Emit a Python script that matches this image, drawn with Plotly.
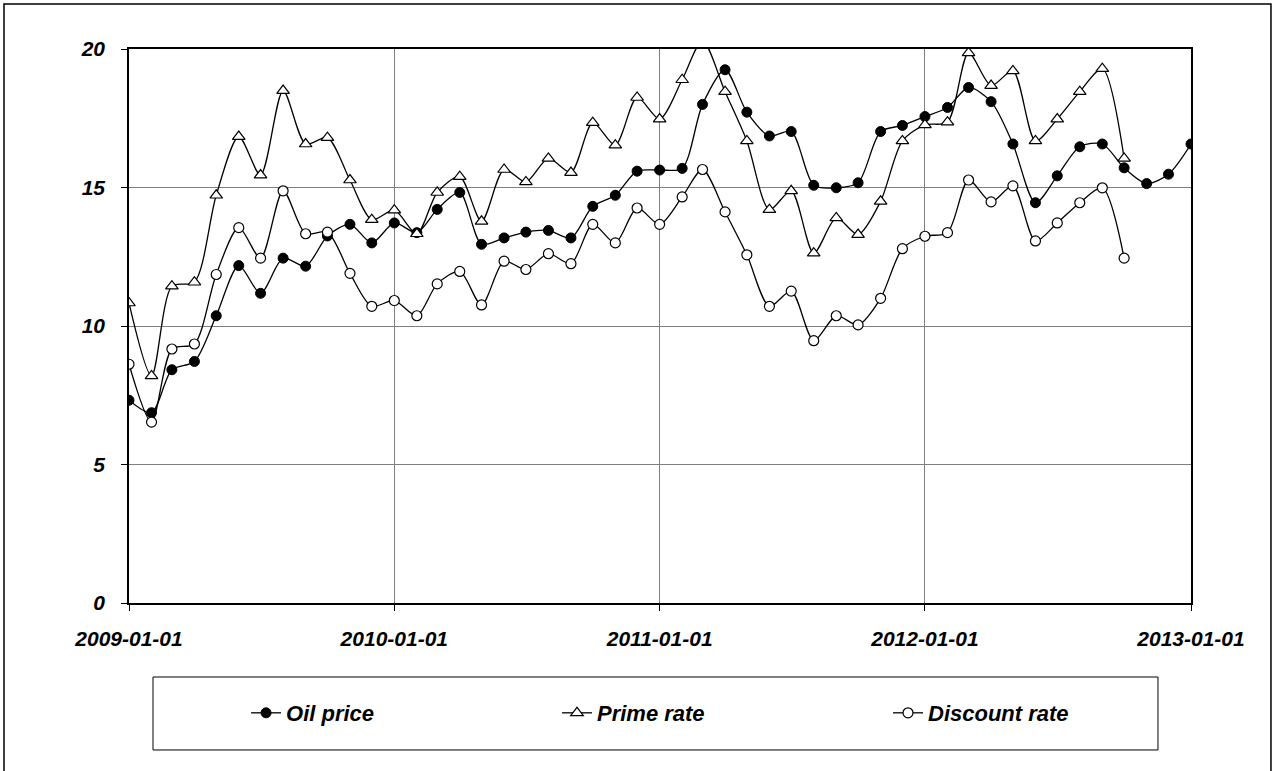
import pandas as pd
import plotly.graph_objects as go

# Monthly series
dates = pd.date_range("2009-01-01", "2013-01-01", freq="MS")

oil_price = [7.32, 6.87, 8.42, 8.72, 10.37, 12.18, 11.18, 12.45, 12.16, 13.25, 13.67, 13.0,
             13.72, 13.37, 14.21, 14.82, 12.95, 13.18, 13.39, 13.45, 13.18, 14.32, 14.72, 15.59,
             15.63, 15.69, 18.0, 19.25, 17.72, 16.86, 17.02, 15.08, 14.99, 15.17, 17.02, 17.24,
             17.56, 17.89, 18.61, 18.1, 16.57, 14.45, 15.42, 16.47, 16.57, 15.71, 15.14, 15.48,
             16.57]

prime_rate = [10.83, 8.2, 11.44, 11.58, 14.72, 16.84, 15.45, 18.5, 16.57, 16.8, 15.27, 13.84,
              14.18, 13.33, 14.82, 15.39, 13.78, 15.65, 15.2, 16.05, 15.54, 17.34, 16.53, 18.25,
              17.47, 18.89, 20.3, 18.46, 16.68, 14.2, 14.88, 12.63, 13.9, 13.3, 14.5, 16.68,
              17.26, 17.36, 19.86, 18.68, 19.21, 16.68, 17.47, 18.46, 19.29, 16.05]

discount_rate = [8.62, 6.53, 9.17, 9.35, 11.86, 13.55, 12.45, 14.88, 13.33, 13.39, 11.9, 10.71,
                 10.92, 10.37, 11.52, 11.97, 10.76, 12.34, 12.04, 12.61, 12.25, 13.67, 13.0, 14.26,
                 13.67, 14.66, 15.65, 14.12, 12.57, 10.71, 11.26, 9.47, 10.37, 10.04, 11.0, 12.79,
                 13.24, 13.37, 15.27, 14.48, 15.06, 13.07, 13.72, 14.45, 14.99, 12.45]

x_ticks = ["2009-01-01", "2010-01-01", "2011-01-01", "2012-01-01", "2013-01-01"]
y_ticks = [0, 5, 10, 15, 20]

tick_font = dict(family="Liberation Sans, Arial", size=21, color="black",
                 weight="bold", style="italic")
legend_font = dict(family="Liberation Sans, Arial", size=22, color="black",
                   weight="bold", style="italic")

line = dict(color="black", width=1.3, shape="spline", smoothing=0.8)

fig = go.Figure()

fig.add_trace(go.Scatter(
    x=dates[:len(oil_price)], y=oil_price, name="Oil price",
    mode="lines+markers", line=line, legend="legend",
    marker=dict(symbol="circle", size=10, color="black", line=dict(color="black", width=1)),
))
fig.add_trace(go.Scatter(
    x=dates[:len(prime_rate)], y=prime_rate, name="Prime rate",
    mode="lines+markers", line=line, legend="legend2",
    marker=dict(symbol="triangle-up", size=11, color="white", line=dict(color="black", width=1.2)),
))
fig.add_trace(go.Scatter(
    x=dates[:len(discount_rate)], y=discount_rate, name="Discount rate",
    mode="lines+markers", line=line, legend="legend3",
    marker=dict(symbol="circle", size=10, color="white", line=dict(color="black", width=1.2)),
))

# outer border (bottom edge runs off the page) and legend box
fig.add_shape(type="rect", xref="paper", yref="paper",
              x0=-0.1177, x1=1.0753, y0=-0.32, y1=1.0812,
              line=dict(color="black", width=1.5), layer="below")
fig.add_shape(type="rect", xref="paper", yref="paper",
              x0=0.0226, x1=0.9689, y0=-0.2653, y1=-0.1336,
              line=dict(color="black", width=1), layer="below")

leg = dict(orientation="h", xanchor="left", y=-0.1986, yanchor="middle",
           font=legend_font, bgcolor="rgba(0,0,0,0)")

fig.update_layout(
    width=1274, height=771,
    margin=dict(l=129, r=83, t=49, b=168),
    paper_bgcolor="white", plot_bgcolor="white",
    font=tick_font,
    showlegend=True,
    legend=dict(leg, x=0.1102),
    legend2=dict(leg, x=0.4030),
    legend3=dict(leg, x=0.7147),
)

fig.update_xaxes(
    range=[x_ticks[0], x_ticks[-1]], tickvals=x_ticks, ticktext=x_ticks,
    showgrid=True, gridcolor="#7f7f7f", gridwidth=1,
    showline=True, linecolor="black", linewidth=2, mirror=True,
    ticks="outside", ticklen=6, tickcolor="black", zeroline=False,
    tickfont=tick_font, ticklabelstandoff=10,
)
fig.update_yaxes(
    range=[0, 20], tickvals=y_ticks,
    showgrid=True, gridcolor="#7f7f7f", gridwidth=1,
    showline=True, linecolor="black", linewidth=1.5, mirror=True,
    ticks="outside", ticklen=6, tickcolor="black", zeroline=False,
    tickfont=tick_font, ticklabelstandoff=12,
)

fig.write_html("out.html", config={"displayModeBar": False},
               post_script="document.body.style.margin='0';")
